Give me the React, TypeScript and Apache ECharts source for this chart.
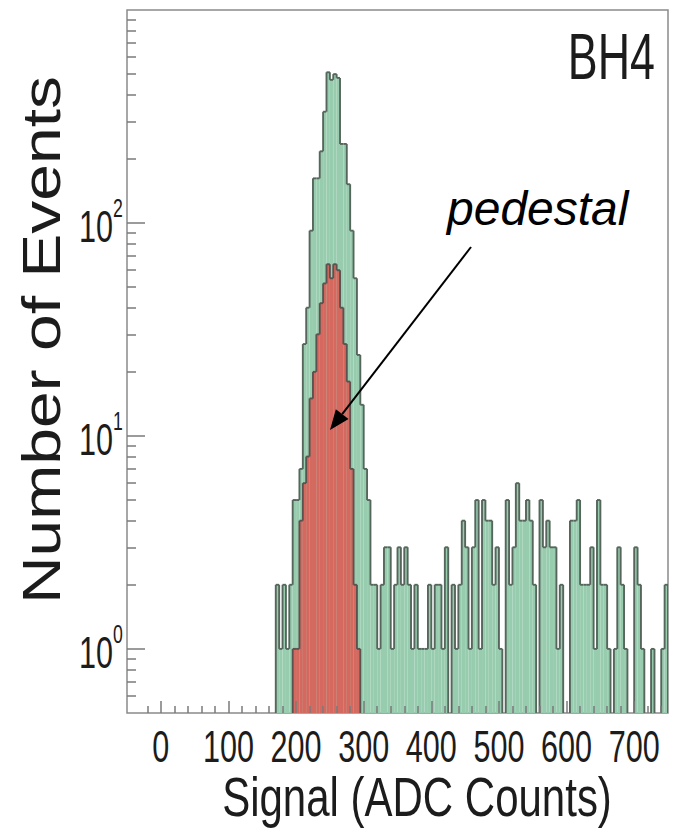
import React, { useEffect, useRef } from "react";
import * as echarts from "echarts";

// ---------- data ----------
const BIN_WIDTH = 5;
const GREEN_START = 165; // lower edge of first bin (ADC counts)
const greenCounts = [
  0, 2, 1, 2, 1, 2, 5, 5, 7, 27, // 165-210
  40, 92, 162, 162, 217, 333, 510, 470, 500, 480, // 215-260
  235, 235, 152, 92, 55, 24, 14, 7, 5, 2, // 265-310
  2, 1, 2, 3, 3, 1, 2, 3, 2, 3, // 315-360
  2, 1, 2, 1, 1, 1, 2, 1, 2, 2, // 365-410
  1, 3, 0, 2, 1, 2, 4, 3, 1, 3, // 415-460
  5, 1, 5, 4, 4, 2, 3, 1, 0, 5, // 465-510
  2, 3, 6, 4, 4, 5, 4, 2, 0, 5, // 515-560
  3, 4, 3, 3, 1, 2, 0, 0, 4, 4, // 565-610
  5, 2, 2, 2, 3, 1, 5, 2, 2, 1, // 615-660
  0, 1, 3, 2, 1, 0, 0, 3, 2, 1, // 665-710
  0, 0, 1, 0, 0, 1, 2, // 715-745
];
const RED_START = 190;
const redCounts = [
  0, 1, 1, 4, 6, 8, 15, 20, 30, 42, // 190-235
  52, 64, 55, 64, 60, 40, 27, 18, 7, 2, // 240-285
  1, 0, // 290-295
];
const xTickValues = [0, 100, 200, 300, 400, 500, 600, 700];
const xMinorTickValues = [
  -20, 20, 40, 60, 80, 120, 140, 160, 180, 220, 240, 260, 280, 320, 340, 360, 380,
  420, 440, 460, 480, 520, 540, 560, 580, 620, 640, 660, 680, 720, 740,
];
const yTickValues = [1, 10, 100];
const yTickExponents = ["0", "1", "2"];
const yMinorTickValues = [
  0.6, 0.7, 0.8, 0.9, 2, 3, 4, 5, 6, 7, 8, 9, 20, 30, 40, 50, 60, 70, 80, 90,
  200, 300, 400, 500, 600, 700, 800, 900,
];

// ---------- style ----------
const GREEN = "#98ccae";
const RED = "#d5695f";
const OUTLINE = "#56665c";
const RED_OUTLINE = "#5a5350";
const FRAME = "#8a8a8a";
const TICK = "#7a7a7a";
const TEXT = "#1c1c1c";
const SANS = "'Liberation Sans', Arial, Helvetica, sans-serif";
const SQUEEZE = 0.68;
const LINE_W = 1.9;

function toItems(start: number, counts: number[]) {
  const items = counts.map((c, i) => [
    start + i * BIN_WIDTH,
    start + (i + 1) * BIN_WIDTH,
    c,
    i > 0 ? counts[i - 1] : 0,
  ]);
  const n = counts.length;
  items.push([start + n * BIN_WIDTH, start + (n + 1) * BIN_WIDTH, 0, counts[n - 1]]);
  return items;
}

function histRenderer(fill: string | null, stroke: string) {
  return (params: any, api: any) => {
    const x0 = api.value(0);
    const x1 = api.value(1);
    const c = api.value(2);
    const p = api.value(3);
    const cs = params.coordSys;
    const bottom = cs.y + cs.height;
    const yOf = (v: number) => (v > 0 ? Math.min(api.coord([x0, v])[1], bottom) : bottom);
    const xl = api.coord([x0, 1])[0];
    const xr = api.coord([x1, 1])[0];
    const yt = yOf(c);
    const yp = yOf(p);
    const children: any[] = [];
    if (fill && c > 0) {
      children.push({
        type: "rect",
        shape: { x: xl, y: yt, width: xr - xl, height: bottom - yt },
        style: { fill },
      });
    }
    if (c > 0) {
      children.push({
        type: "line",
        shape: { x1: xl, y1: yt, x2: xr, y2: yt },
        style: { stroke, lineWidth: LINE_W },
      });
    }
    if (yp !== yt) {
      children.push({
        type: "line",
        shape: { x1: xl, y1: yp, x2: xl, y2: yt },
        style: { stroke, lineWidth: LINE_W },
      });
    }
    return { type: "group", children };
  };
}

export default function App() {
  const ref = useRef<HTMLDivElement>(null);

  useEffect(() => {
    if (!ref.current) return;
    const chart = echarts.init(ref.current, null, { renderer: "svg" });

    const option: any = {
      animation: false,
      backgroundColor: "#ffffff",
      grid: {
        left: 127,
        top: 10,
        width: 541,
        height: 703,
        show: true,
        borderColor: FRAME,
        borderWidth: 1.5,
        backgroundColor: "transparent",
      },
      xAxis: [
        {
          type: "value",
          min: -50,
          max: 750,
          z: 10,
          axisLine: { show: false, onZero: false },
          splitLine: { show: false },
          axisTick: {
            show: true,
            inside: true,
            length: 12,
            lineStyle: { color: TICK, width: 1.5 },
            customValues: xTickValues,
          },
          axisLabel: { show: false },
        },
        {
          type: "value",
          min: -50,
          max: 750,
          z: 10,
          position: "bottom",
          axisLine: { show: false, onZero: false },
          splitLine: { show: false },
          axisLabel: { show: false },
          axisTick: {
            show: true,
            inside: true,
            length: 7,
            lineStyle: { color: TICK, width: 1.5 },
            customValues: xMinorTickValues,
          },
        },
      ],
      yAxis: [
        {
          type: "log",
          logBase: 10,
          min: 0.5,
          max: 1000,
          z: 10,
          position: "left",
          axisLine: { show: false, onZero: false },
          splitLine: { show: false },
          axisTick: {
            show: true,
            inside: true,
            length: 18,
            lineStyle: { color: TICK, width: 1.5 },
            customValues: yTickValues,
          },
          axisLabel: { show: false },
        },
        {
          type: "log",
          logBase: 10,
          min: 0.5,
          max: 1000,
          z: 10,
          position: "left",
          axisLine: { show: false, onZero: false },
          splitLine: { show: false },
          axisLabel: { show: false },
          axisTick: {
            show: true,
            inside: true,
            length: 9,
            lineStyle: { color: TICK, width: 1.5 },
            customValues: yMinorTickValues,
          },
        },
      ],
      series: [
        {
          name: "All events",
          type: "custom",
          xAxisIndex: 0,
          yAxisIndex: 0,
          clip: true,
          z: 2,
          encode: { x: 0, y: 2 },
          renderItem: histRenderer(GREEN, OUTLINE),
          data: toItems(GREEN_START, greenCounts),
        },
        {
          name: "Pedestal",
          type: "custom",
          xAxisIndex: 0,
          yAxisIndex: 0,
          clip: true,
          z: 3,
          encode: { x: 0, y: 2 },
          renderItem: histRenderer(RED, RED_OUTLINE),
          data: toItems(RED_START, redCounts),
        },
      ],
    };

    chart.setOption(option);

    // tick labels placed through the axes' own scales
    const labelGraphics: any[] = [];
    xTickValues.forEach((v) => {
      const px = chart.convertToPixel({ xAxisIndex: 0 }, v) as number;
      labelGraphics.push({
        type: "text",
        z: 100,
        x: px,
        y: 746,
        scaleX: SQUEEZE,
        style: {
          text: String(v),
          fontSize: 45,
          fontFamily: SANS,
          fill: TEXT,
          textAlign: "center",
          textVerticalAlign: "middle",
        },
      });
    });
    yTickValues.forEach((v, i) => {
      const py = chart.convertToPixel({ yAxisIndex: 0 }, v) as number;
      labelGraphics.push({
        type: "text",
        z: 100,
        x: 113,
        y: py + 3,
        scaleX: SQUEEZE,
        style: {
          text: "10",
          fontSize: 45,
          fontFamily: SANS,
          fill: TEXT,
          textAlign: "right",
          textVerticalAlign: "middle",
        },
      });
      labelGraphics.push({
        type: "text",
        z: 100,
        x: 113,
        y: py - 15,
        scaleX: SQUEEZE,
        style: {
          text: yTickExponents[i],
          fontSize: 26,
          fontFamily: SANS,
          fill: TEXT,
          textAlign: "left",
          textVerticalAlign: "middle",
        },
      });
    });

    // annotation arrow
    const tipX = 330, tipY = 430, startX = 471, startY = 247;
    const dx = tipX - startX, dy = tipY - startY;
    const len = Math.hypot(dx, dy);
    const ux = dx / len, uy = dy / len;
    const headLen = 20, headHalf = 8;
    const bx = tipX - ux * headLen, by = tipY - uy * headLen;

    chart.setOption({
      graphic: [
        ...labelGraphics,
        {
          type: "text",
          z: 100,
          x: 42,
          y: 340,
          rotation: Math.PI / 2,
          scaleY: 0.8,
          style: {
            text: "Number of Events",
            fontSize: 66,
            fontFamily: SANS,
            fill: TEXT,
            textAlign: "center",
            textVerticalAlign: "middle",
          },
        },
        {
          type: "text",
          z: 100,
          x: 417,
          y: 796,
          scaleX: 0.75,
          style: {
            text: "Signal (ADC Counts)",
            fontSize: 56,
            fontFamily: SANS,
            fill: TEXT,
            textAlign: "center",
            textVerticalAlign: "middle",
          },
        },
        {
          type: "text",
          z: 100,
          x: 655,
          y: 57,
          scaleX: 0.7,
          style: {
            text: "BH4",
            fontSize: 64,
            fontFamily: SANS,
            fill: TEXT,
            textAlign: "right",
            textVerticalAlign: "middle",
          },
        },
        {
          type: "text",
          z: 100,
          x: 447,
          y: 208,
          style: {
            text: "pedestal",
            fontSize: 48,
            fontStyle: "italic",
            fontFamily: SANS,
            fill: "#000",
            textAlign: "left",
            textVerticalAlign: "middle",
          },
        },
        {
          type: "line",
          z: 100,
          shape: { x1: startX, y1: startY, x2: bx, y2: by },
          style: { stroke: "#000", lineWidth: 2 },
        },
        {
          type: "polygon",
          z: 100,
          shape: {
            points: [
              [tipX, tipY],
              [bx - uy * headHalf, by + ux * headHalf],
              [bx + uy * headHalf, by - ux * headHalf],
            ],
          },
          style: { fill: "#000" },
        },
      ],
    });

    return () => chart.dispose();
  }, []);

  return (
    <div
      ref={ref}
      style={{ position: "fixed", left: 0, top: 0, width: 698, height: 829, background: "#fff" }}
    />
  );
}
